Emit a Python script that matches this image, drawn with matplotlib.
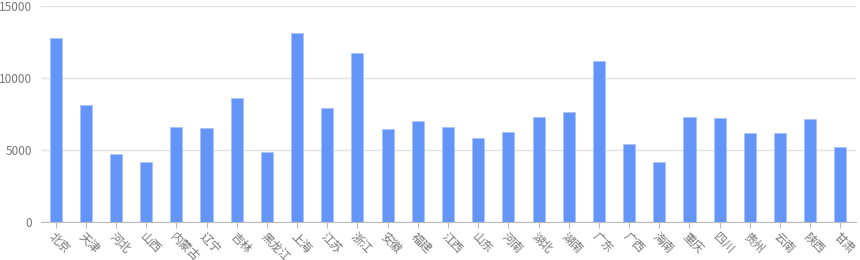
import matplotlib
matplotlib.use("Agg")
import matplotlib.pyplot as plt
import numpy as np

plt.rcParams['font.family'] = ['Noto Sans CJK SC', 'DejaVu Sans']

provinces = ['北京', '天津', '河北', '山西', '内蒙古', '辽宁', '吉林', '黑龙江', '上海',
             '江苏', '浙江', '安徽', '福建', '江西', '山东', '河南', '湖北', '湖南',
             '广东', '广西', '海南', '重庆', '四川', '贵州', '云南', '陕西', '甘肃']
values = [12780, 8100, 4750, 4170, 6560, 6530, 8590, 4820, 13080,
          7940, 11700, 6460, 7010, 6580, 5810, 6230, 7270, 7600,
          11140, 5400, 4190, 7270, 7200, 6140, 6140, 7150, 5170]
yticks = [0, 5000, 10000, 15000]

fig = plt.figure(figsize=(8.6, 2.6), dpi=100)
ax = fig.add_axes([40.5/860, 1-222/260, 815/860, (222-5.7)/260])

x = np.arange(len(provinces))
ax.bar(x, values, width=0.4, color='#6394F8', edgecolor='#A9C3FB', linewidth=0.6, zorder=3)

ax.set_xlim(-0.5, len(provinces)-0.5)
ax.set_ylim(0, 15000)
ax.set_yticks(yticks)
ax.set_yticklabels([str(t) for t in yticks])
ax.grid(axis='y', color='#E3E3E3', linewidth=1, zorder=0)
ax.set_xticks(x)
ax.set_xticklabels(provinces, rotation=-45, ha='left', va='top', rotation_mode='anchor')

for s in ['top', 'right', 'left']:
    ax.spines[s].set_visible(False)
ax.spines['bottom'].set_color('#BBBBBB')
ax.tick_params(axis='y', length=0, labelsize=8.5, labelcolor='#777777', pad=6)
ax.tick_params(axis='x', length=4, color='#BBBBBB', labelsize=8.5, labelcolor='#777777', pad=2)

plt.savefig('out.png', dpi=100)
